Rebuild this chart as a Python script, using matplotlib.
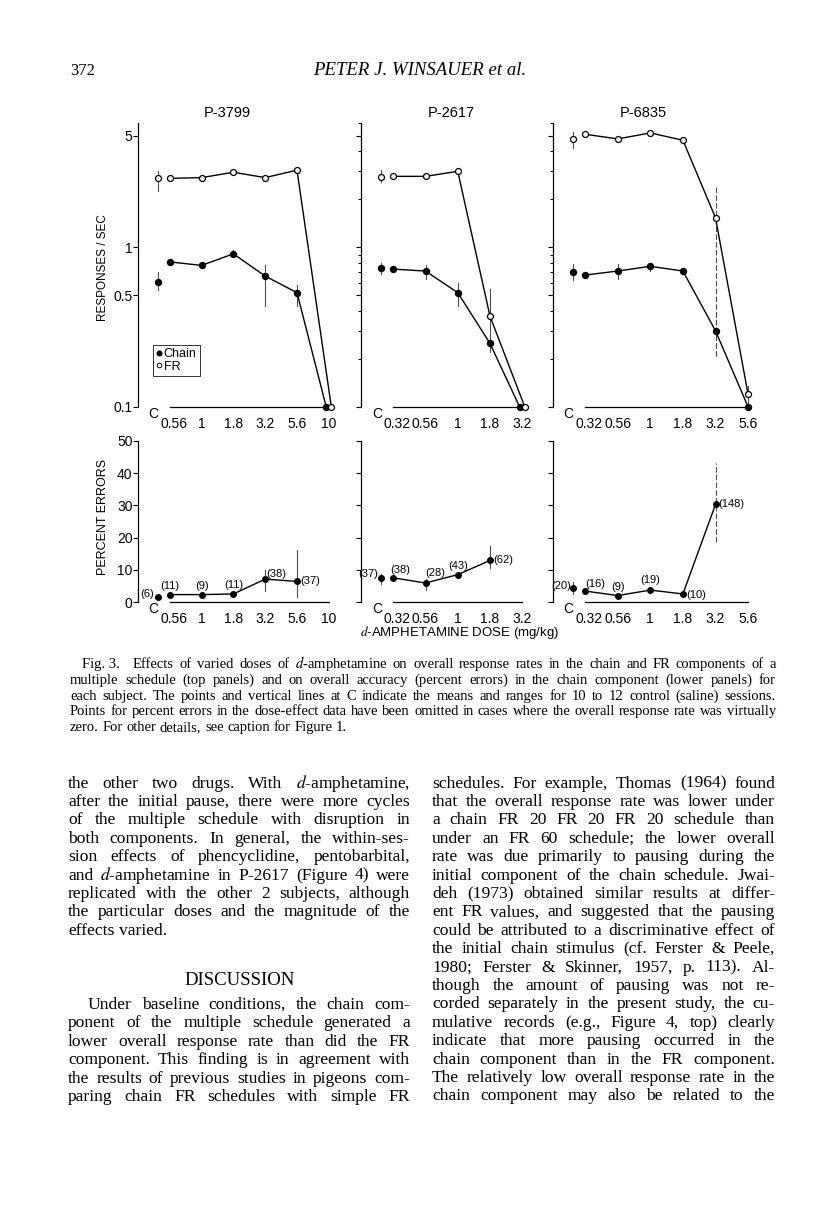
import numpy as np
import matplotlib
matplotlib.use("Agg")
import matplotlib.pyplot as plt
from matplotlib.lines import Line2D
from matplotlib.transforms import ScaledTranslation

W, H = 816, 1209
SANS = "Liberation Sans"
SERIF = "Liberation Serif"
plt.rcParams["font.family"] = SANS
plt.rcParams["mathtext.fontset"] = "stix"
nan = np.nan

# ---------- data ----------
subjects = ["P-3799", "P-2617", "P-6835"]
dose_labels = [["0.56", "1", "1.8", "3.2", "5.6", "10"],
               ["0.32", "0.56", "1", "1.8", "3.2"],
               ["0.32", "0.56", "1", "1.8", "3.2", "5.6"]]

# responses / sec (FR and chain components), means and ranges
fr_rate = [[2.70, 2.73, 2.95, 2.73, 3.04, 0.1],
           [2.78, 2.78, 2.99, 0.37, 0.1],
           [5.10, 4.77, 5.20, 4.68, 1.53, 0.12]]
fr_lo = [[nan, nan, nan, nan, nan, nan],
         [nan, nan, nan, 0.24, nan],
         [4.90, nan, nan, nan, 0.21, 0.105]]
fr_hi = [[nan, nan, nan, nan, nan, nan],
         [nan, nan, nan, 0.55, nan],
         [5.30, nan, nan, nan, 2.44, 0.135]]
chain_rate = [[0.81, 0.77, 0.91, 0.66, 0.52, 0.1],
              [0.73, 0.71, 0.52, 0.25, 0.1],
              [0.67, 0.71, 0.76, 0.71, 0.30, 0.1]]
chain_lo = [[nan, nan, 0.87, 0.43, 0.43, nan],
            [nan, 0.63, 0.43, 0.22, nan],
            [nan, 0.63, 0.71, nan, 0.21, nan]]
chain_hi = [[nan, nan, 0.96, 0.78, 0.58, nan],
            [nan, 0.78, 0.60, 0.28, nan],
            [nan, 0.79, 0.79, nan, 0.39, nan]]
ctrl_fr = [2.70, 2.77, 4.75]
ctrl_fr_lo = [2.24, 2.58, 4.20]
ctrl_fr_hi = [2.99, 3.05, 5.30]
ctrl_chain = [0.61, 0.74, 0.70]
ctrl_chain_lo = [0.54, 0.68, 0.62]
ctrl_chain_hi = [0.70, 0.80, 0.79]

# percent errors in the chain component
pct_err = [[2.3, 2.3, 2.5, 7.1, 6.4, nan],
           [7.5, 5.9, 8.5, 12.9, nan],
           [3.4, 2.0, 3.7, 2.5, 30.3, nan]]
pct_lo = [[nan, nan, nan, 3.3, 1.5, nan],
          [nan, 3.6, nan, 10.7, nan],
          [nan, nan, nan, nan, 18.6, nan]]
pct_hi = [[nan, nan, nan, 10.0, 16.3, nan],
          [nan, 7.2, nan, 17.3, nan],
          [nan, nan, nan, nan, 43.3, nan]]
ctrl_err = [1.4, 7.5, 4.5]
ctrl_err_lo = [0.7, 5.7, 2.4]
ctrl_err_hi = [2.6, 8.6, 6.2]
n_sessions = [[11, 9, 11, 38, 37, None],
              [38, 28, 43, 62, None],
              [16, 9, 19, 10, 148, None]]
ctrl_sessions = [6, 37, 20]

# ---------- layout (pixels on the page) ----------
AX_LEFT = [138, 361, 552.5]
UNIT = [31.8, 32.25, 32.6]
TOP_Y, TOP_H = 123, 284
BOT_Y, BOT_H = 441, 161
CTRL_X = -0.38
# where the session counts sit relative to each point: (dx px, dy px, ha)
LBL = [[(0, 9, "center"), (0, 9, "center"), (0, 9, "center"), (1, 5, "left"), (3, 0, "left")],
       [(-3, 8, "left"), (0, 10, "left"), (0, 9, "center"), (3, 0, "left")],
       [(0, 7, "left"), (0, 9, "center"), (0, 10, "center"), (3, -1, "left"), (3, 0, "left")]]
CTRL_LBL = [(-4, 3), (-3, 4), (-2, 2)]
DASHED = {(2, 4)}  # broken range lines in the scan

fig = plt.figure(figsize=(W / 100, H / 100), dpi=100)


def px_axes(left, top, width, height):
    return fig.add_axes([left / W, 1 - (top + height) / H, width / W, height / H])


def vbar(ax, x, lo, hi, dashed=False):
    if np.isnan(lo):
        return
    ax.plot([x, x], [lo, hi], color="0.3", lw=0.8, ls=(0, (5, 2)) if dashed else "-",
            clip_on=False, zorder=2)


def style(ax, labels):
    n = len(labels)
    ax.set_xlim(-1, n - 1 + 0.15)
    for s in ("top", "right"):
        ax.spines[s].set_visible(False)
    for s in ("left", "bottom"):
        ax.spines[s].set_linewidth(0.9)
    ax.spines["bottom"].set_bounds(0, n - 1)
    ax.set_xticks(range(n))
    ax.set_xticklabels(labels)
    ax.tick_params(axis="x", length=0, pad=7, labelsize=10)
    ax.tick_params(axis="y", which="major", length=3.5, width=0.8, pad=0.5, labelsize=10)
    ax.tick_params(axis="y", which="minor", length=2.5, width=0.7)
    ax.patch.set_visible(False)
    # first dose label sits a little right of its point, clear of the "C"
    first = ax.get_xticklabels()[0]
    first.set_transform(first.get_transform() + ScaledTranslation(4 / 100, 0, fig.dpi_scale_trans))
    ax.annotate("C", xy=(CTRL_X, 0), xycoords=("data", "axes fraction"), xytext=(-4, -7),
                textcoords="offset pixels", ha="center", va="center", fontsize=10)


for i, subj in enumerate(subjects):
    labels = dose_labels[i]
    n = len(labels)
    w = (n + 0.15) * UNIT[i]

    # ---- top: response rates ----
    ax = px_axes(AX_LEFT[i], TOP_Y, w, TOP_H)
    ax.set_yscale("log")
    ax.set_ylim(0.1, 6)
    ax.set_yticks([0.1, 0.5, 1, 5])
    if i == 0:
        ax.set_yticks([], minor=True)
        ax.set_yticklabels(["0.1", "0.5", "1", "5"])
    else:
        ax.set_yticks([0.2, 0.3, 0.4, 0.6, 0.7, 0.8, 0.9, 2, 3, 4, 6], minor=True)
        ax.set_yticklabels([])
    ax.yaxis.set_minor_formatter(plt.NullFormatter())
    style(ax, labels)
    xc = np.arange(n, dtype=float)
    xf = np.arange(n, dtype=float)
    if fr_rate[i][-1] == chain_rate[i][-1]:
        xc[-1] -= 0.08
        xf[-1] += 0.08
    for j in range(n):
        vbar(ax, xc[j], chain_lo[i][j], chain_hi[i][j], (i, j) in DASHED)
        vbar(ax, xf[j], fr_lo[i][j], fr_hi[i][j], (i, j) in DASHED)
    vbar(ax, CTRL_X, ctrl_fr_lo[i], ctrl_fr_hi[i])
    vbar(ax, CTRL_X, ctrl_chain_lo[i], ctrl_chain_hi[i])
    ax.plot(xc, chain_rate[i], "k-", lw=1.0, marker="o", ms=4.3, mfc="k", mec="k",
            clip_on=False, zorder=3)
    ax.plot(xf, fr_rate[i], "k-", lw=1.0, marker="o", ms=4.3, mfc="white", mec="k",
            mew=0.9, clip_on=False, zorder=4)
    ax.plot([CTRL_X], [ctrl_chain[i]], "o", ms=4.3, mfc="k", mec="k", clip_on=False, zorder=3)
    ax.plot([CTRL_X], [ctrl_fr[i]], "o", ms=4.3, mfc="white", mec="k", mew=0.9,
            clip_on=False, zorder=4)
    fig.text((AX_LEFT[i] + UNIT[i] * 2.8) / W, 1 - 113 / H, subj, ha="center", va="center",
             fontsize=10.5)
    if i == 0:
        hs = [Line2D([], [], ls="none", marker="o", ms=3.3, mfc="k", mec="k"),
              Line2D([], [], ls="none", marker="o", ms=3.3, mfc="white", mec="k", mew=0.7)]
        leg = ax.legend(hs, ["Chain", "FR"], loc="upper left",
                        bbox_to_anchor=(153 / W, 1 - 345 / H), bbox_transform=fig.transFigure,
                        fancybox=False, edgecolor="k", fontsize=9, handlelength=0.4,
                        handletextpad=0.2, borderpad=0.25, labelspacing=0.05, borderaxespad=0)
        leg.get_frame().set_linewidth(0.7)

    # ---- bottom: percent errors ----
    ax = px_axes(AX_LEFT[i], BOT_Y, w, BOT_H)
    ax.set_ylim(0, 50)
    ax.set_yticks([0, 10, 20, 30, 40, 50])
    if i > 0:
        ax.set_yticklabels([])
    style(ax, labels)
    x = np.arange(n, dtype=float)
    for j in range(n):
        vbar(ax, x[j], pct_lo[i][j], pct_hi[i][j], (i, j) in DASHED)
    vbar(ax, CTRL_X, ctrl_err_lo[i], ctrl_err_hi[i])
    ax.plot(x, pct_err[i], "k-", lw=1.0, marker="o", ms=4, mfc="k", mec="k",
            clip_on=False, zorder=3)
    ax.plot([CTRL_X], [ctrl_err[i]], "o", ms=4, mfc="k", mec="k", clip_on=False, zorder=3)
    for j, ns in enumerate(n_sessions[i]):
        if ns is None:
            continue
        dx, dy, ha = LBL[i][j]
        ax.annotate(f"({ns})", xy=(x[j], pct_err[i][j]), xytext=(dx, dy),
                    textcoords="offset pixels", ha=ha, va="center", fontsize=8)
    dx, dy = CTRL_LBL[i]
    ax.annotate(f"({ctrl_sessions[i]})", xy=(CTRL_X, ctrl_err[i]), xytext=(dx, dy),
                textcoords="offset pixels", ha="right", va="center", fontsize=8)

fig.text(103 / W, 1 - 268 / H, "RESPONSES / SEC", rotation=90, ha="center", va="center",
         fontsize=8.5)
fig.text(103 / W, 1 - 517 / H, "PERCENT ERRORS", rotation=90, ha="center", va="center",
         fontsize=9)
fig.text(460 / W, 1 - 632 / H, r"$d$-AMPHETAMINE DOSE (mg/kg)", ha="center", va="center",
         fontsize=9.5)

# ---------- page text ----------
fig.text(70 / W, 1 - 75 / H, "372", ha="left", va="baseline", family=SERIF, fontsize=12)
fig.text(420 / W, 1 - 75 / H, "PETER J. WINSAUER et al.", ha="center", va="baseline",
         family=SERIF, style="italic", fontsize=13.5)

renderer = fig.canvas.get_renderer()


def put_line(text, x0, x1, y, size, justify=True):
    words = text.split(" ")
    arts = [fig.text(0, 0, wd, fontsize=size, family=SERIF, va="baseline", ha="left")
            for wd in words]
    ws = [a.get_window_extent(renderer).width for a in arts]
    space = size * 0.25 * 100 / 72
    if justify and len(words) > 1:
        room = x1 - x0 - (len(words) - 1) * space * 0.8
        if sum(ws) > room:  # too long at this size: shrink the line to fit
            size *= room / sum(ws)
            for a in arts:
                a.set_fontsize(size)
            ws = [a.get_window_extent(renderer).width for a in arts]
        gap = (x1 - x0 - sum(ws)) / (len(words) - 1)
    else:
        gap = space
    xx = x0
    for a, wd in zip(arts, ws):
        a.set_position((xx / W, 1 - y / H))
        xx += wd + gap


caption = [
    "Fig.\u00a03.\u00a0\u00a0 Effects of varied doses of $d$-amphetamine on overall response rates in the chain and FR components of a",
    "multiple schedule (top panels) and on overall accuracy (percent errors) in the chain component (lower panels) for",
    "each subject. The points and vertical lines at C indicate the means and ranges for 10 to 12 control (saline) sessions.",
    "Points for percent errors in the dose-effect data have been omitted in cases where the overall response rate was virtually",
    "zero. For other details, see caption for Figure 1.",
]
for k, line in enumerate(caption):
    put_line(line, 82 if k == 0 else 70, 776, 668 + k * 15.8, 10.5, justify=k < 4)

left_col = [
    "the other two drugs. With $d$-amphetamine,",
    "after the initial pause, there were more cycles",
    "of the multiple schedule with disruption in",
    "both components. In general, the within-ses-",
    "sion effects of phencyclidine, pentobarbital,",
    "and $d$-amphetamine in P-2617 (Figure 4) were",
    "replicated with the other 2 subjects, although",
    "the particular doses and the magnitude of the",
    "effects varied.",
]
for k, line in enumerate(left_col):
    put_line(line, 68, 410, 787.5 + k * 18.4, 12.6, justify=k < len(left_col) - 1)

fig.text(240 / W, 1 - 985 / H, "DISCUSSION", ha="center", va="baseline", family=SERIF,
         fontsize=13.5)

discussion = [
    "Under baseline conditions, the chain com-",
    "ponent of the multiple schedule generated a",
    "lower overall response rate than did the FR",
    "component. This finding is in agreement with",
    "the results of previous studies in pigeons com-",
    "paring chain FR schedules with simple FR",
]
for k, line in enumerate(discussion):
    put_line(line, 88 if k == 0 else 68, 410, 1009 + k * 18.4, 12.6)

right_col = [
    "schedules. For example, Thomas (1964) found",
    "that the overall response rate was lower under",
    "a chain FR 20 FR 20 FR 20 schedule than",
    "under an FR 60 schedule; the lower overall",
    "rate was due primarily to pausing during the",
    "initial component of the chain schedule. Jwai-",
    "deh (1973) obtained similar results at differ-",
    "ent FR values, and suggested that the pausing",
    "could be attributed to a discriminative effect of",
    "the initial chain stimulus (cf. Ferster & Peele,",
    "1980; Ferster & Skinner, 1957, p. 113). Al-",
    "though the amount of pausing was not re-",
    "corded separately in the present study, the cu-",
    "mulative records (e.g., Figure 4, top) clearly",
    "indicate that more pausing occurred in the",
    "chain component than in the FR component.",
    "The relatively low overall response rate in the",
    "chain component may also be related to the",
]
for k, line in enumerate(right_col):
    put_line(line, 432, 775, 787.5 + k * 18.4, 12.6)

fig.savefig("out.png", dpi=100)
